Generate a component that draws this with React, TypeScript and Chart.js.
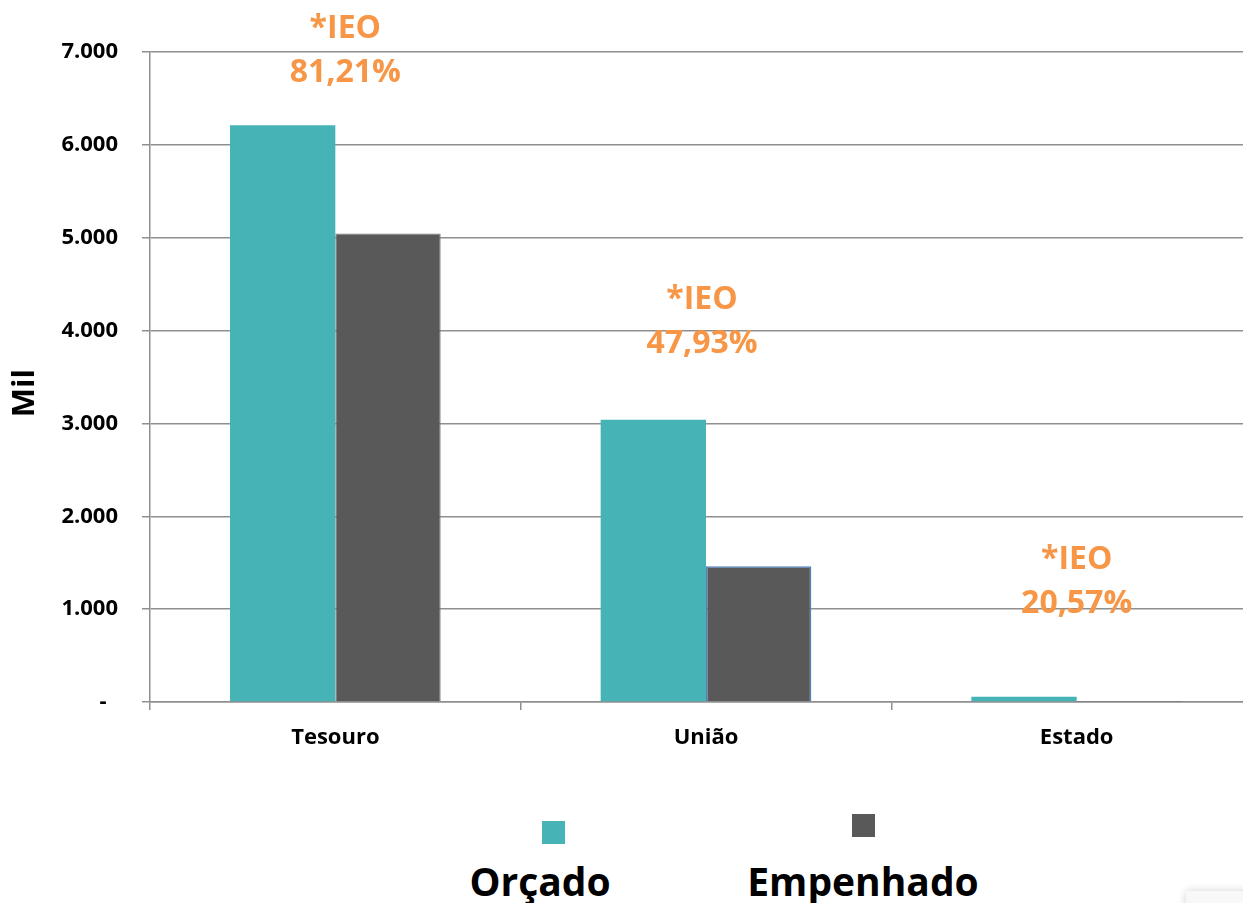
import React, { useEffect, useRef } from "react";
import { Chart, registerables } from "chart.js";

Chart.register(...registerables);

const categories = ["Tesouro", "União", "Estado"];
const orcado = [6210, 3040, 56];
const empenhado = [5045, 1463, 12];
const ieoTitle = "*IEO";
const ieoLabels = ["81,21%", "47,93%", "20,57%"];
const yTicks = { min: 0, max: 7000, step: 1000 };

const TEAL = "#46B4B7";
const GREY = "#595959";
const ORANGE = "#F79646";
const GRID = "#8f8f8f";
const FONT = "'Open Sans', 'Noto Sans', sans-serif";

const fmt = (v: number) =>
  v === 0 ? "-  " : String(v).replace(/\B(?=(\d{3})+(?!\d))/g, ".");

const ieoPlugin = {
  id: "ieoLabels",
  afterDatasetsDraw(chart: any, _args: any, opts: any) {
    const ctx = chart.ctx;
    const meta = chart.getDatasetMeta(0);
    const xScale = chart.scales.x;
    ctx.save();
    ctx.fillStyle = ORANGE;
    ctx.font = `bold 32px ${FONT}`;
    ctx.textAlign = "center";
    ctx.textBaseline = "alphabetic";
    ieoLabels.forEach((lab, i) => {
      const bar = meta.data[i];
      const x = xScale.getPixelForValue(i) + opts.dx[i];
      const y2 = bar.y - opts.lift[i];
      ctx.fillText(ieoTitle, x, y2 - opts.gap);
      ctx.fillText(lab, x, y2);
    });
    ctx.restore();
  },
};

export default function App() {
  const ref = useRef<HTMLCanvasElement | null>(null);

  useEffect(() => {
    document.body.style.margin = "0";
    document.body.style.overflow = "hidden";
    const chart = new Chart(ref.current as HTMLCanvasElement, {
      type: "bar",
      data: {
        labels: categories,
        datasets: [
          {
            label: "Orçado",
            data: orcado,
            backgroundColor: TEAL,
            borderWidth: 0,
            barPercentage: 1,
            categoryPercentage: 0.5684,
          },
          {
            label: "Empenhado",
            data: empenhado,
            backgroundColor: GREY,
            borderColor: ["#7a7a7a", "#4F81BD", GREY],
            borderWidth: [1, 1.5, 0],
            barPercentage: 1,
            categoryPercentage: 0.5684,
          },
        ],
      },
      options: {
        animation: false,
        responsive: true,
        maintainAspectRatio: false,
        layout: { padding: { top: 52, right: 38, left: 0, bottom: 0 } },
        plugins: {
          legend: { display: false },
          tooltip: { enabled: false },
          ieoLabels: { dx: [10, -4, 0], lift: [43, 67, 84], gap: 44 },
        } as any,
        scales: {
          x: {
            grid: {
              display: true,
              drawOnChartArea: false,
              drawTicks: true,
              tickLength: 8,
              color: GRID,
              lineWidth: 1.5,
              offset: true,
            },
            border: { display: true, color: GRID, width: 1.5 },
            ticks: {
              color: "#000",
              font: { family: FONT, size: 22, weight: "bold" },
              padding: 15,
            },
            afterFit: (s: any) => {
              s.height = 78;
            },
          },
          y: {
            min: yTicks.min,
            max: yTicks.max,
            ticks: {
              stepSize: yTicks.step,
              color: "#000",
              font: { family: FONT, size: 22, weight: "bold" },
              padding: 24,
              callback: (v: any) => fmt(Number(v)),
            },
            grid: {
              color: GRID,
              lineWidth: 1.5,
              tickLength: 8,
              drawTicks: true,
            },
            border: { display: true, color: GRID, width: 1.5 },
            title: {
              display: true,
              text: "Mil    ",
              color: "#000",
              font: { family: FONT, size: 31, weight: "bold" },
              padding: { top: 7, bottom: 0 },
            },
            afterFit: (s: any) => {
              s.width = 150;
            },
          },
        },
      },
      plugins: [ieoPlugin],
    });
    return () => chart.destroy();
  }, []);

  const legendText: React.CSSProperties = {
    position: "absolute",
    fontFamily: FONT,
    fontWeight: 700,
    fontSize: 39,
    color: "#000",
    lineHeight: 1,
    transform: "translateX(-50%)",
    whiteSpace: "nowrap",
  };

  return (
    <div
      style={{
        position: "fixed",
        left: 0,
        top: 0,
        width: 1243,
        height: 903,
        overflow: "hidden",
        background: "#fff",
      }}
    >
      <div style={{ position: "absolute", left: 0, top: 0, width: 1300, height: 780 }}>
        <canvas ref={ref} />
      </div>
      <div style={{ position: "absolute", left: 542, top: 821, width: 23, height: 23, background: TEAL }} />
      <div style={{ position: "absolute", left: 852, top: 814, width: 23, height: 23, background: GREY }} />
      <div style={{ ...legendText, left: 540, top: 861 }}>Orçado</div>
      <div style={{ ...legendText, left: 863, top: 861 }}>Empenhado</div>
      <div
        style={{
          position: "absolute",
          left: 1186,
          top: 891,
          width: 120,
          height: 60,
          background: "#f8f8f8",
          boxShadow: "0 0 8px rgba(0,0,0,0.18)",
        }}
      />
    </div>
  );
}
